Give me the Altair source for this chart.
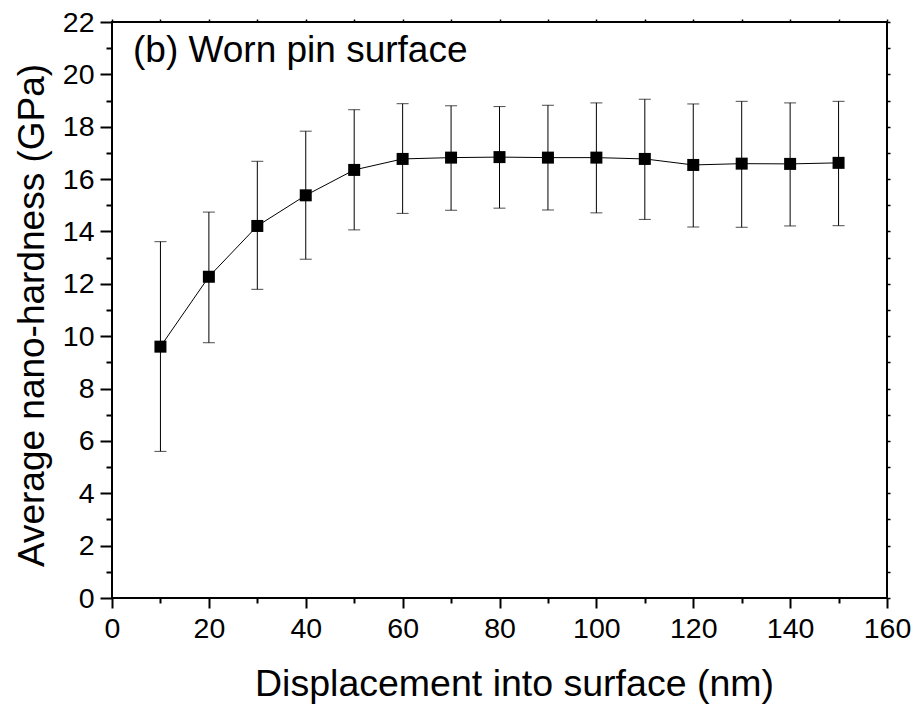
import altair as alt
import pandas as pd

# Data
displacement = [10, 20, 30, 40, 50, 60, 70, 80, 90, 100, 110, 120, 130, 140, 150]
hardness = [9.60, 12.27, 14.21, 15.38, 16.35, 16.77, 16.82, 16.84, 16.82, 16.82, 16.77, 16.54, 16.59, 16.58, 16.62]
upper = [13.61, 14.74, 16.68, 17.83, 18.65, 18.88, 18.80, 18.77, 18.82, 18.91, 19.05, 18.87, 18.97, 18.91, 18.97]
lower = [5.60, 9.75, 11.79, 12.94, 14.06, 14.69, 14.81, 14.89, 14.82, 14.71, 14.46, 14.17, 14.16, 14.21, 14.22]

x_major = list(range(0, 161, 20))
x_minor = list(range(10, 160, 20))
x_top = list(range(0, 161, 10))
y_major = list(range(0, 23, 2))
y_minor = list(range(1, 22, 2))
y_right = list(range(0, 23, 1))

label_text = "(b) Worn pin surface"
x_title = "Displacement into surface (nm)"
y_title = "Average nano-hardness (GPa)"

df = pd.DataFrame({"x": displacement, "h": hardness, "hi": upper, "lo": lower})

FONT = "Liberation Sans"
xs = alt.Scale(domain=[0, 160], nice=False, zero=False)
ys = alt.Scale(domain=[0, 22], nice=False, zero=False)

base = alt.Chart(df)

ax_common = dict(grid=False, domain=False, labelFont=FONT, titleFont=FONT,
                 labelColor="black", titleColor="black", tickColor="black",
                 labelFlush=False, labelOverlap=False)

# Layer 1: connecting line, major axes
line = base.mark_line(color="black", strokeWidth=1).encode(
    x=alt.X("x:Q", scale=xs, axis=alt.Axis(
        values=x_major, tickSize=10, tickWidth=2, labelFontSize=28.5,
        labelPadding=6, title=x_title, titleFontSize=37.5, titleFontWeight="normal",
        titleBaseline="alphabetic", titleY=97, titleX=402, titleAnchor="middle",
        titleAlign="center", **ax_common)),
    y=alt.Y("h:Q", scale=ys, axis=alt.Axis(
        values=y_major, tickSize=12, tickWidth=2, labelFontSize=28.5,
        labelPadding=6, title=y_title, titleFontSize=37, titleFontWeight="normal",
        titleBaseline="alphabetic", titleX=-69, titleY=293, titleAlign="center",
        **ax_common)),
)

# Layer 2: error bar stems, minor ticks on bottom/left
stems = base.mark_rule(color="black", strokeWidth=1).encode(
    x=alt.X("x:Q", scale=xs, axis=alt.Axis(
        orient="bottom", values=x_minor, tickSize=5, tickWidth=2,
        labels=False, title=None, **ax_common)),
    y=alt.Y("lo:Q", scale=ys, axis=alt.Axis(
        orient="left", values=y_minor, tickSize=6, tickWidth=2,
        labels=False, title=None, **ax_common)),
    y2="hi:Q",
)

# Layer 3: upper caps, small ticks on top/right
cap_hi = base.mark_tick(color="black", thickness=1, size=12, orient="horizontal").encode(
    x=alt.X("x:Q", scale=xs, axis=alt.Axis(
        orient="top", values=x_top, tickSize=3, tickWidth=1.5,
        labels=False, title=None, **ax_common)),
    y=alt.Y("hi:Q", scale=ys, axis=alt.Axis(
        orient="right", values=y_right, tickSize=3, tickWidth=1.5,
        labels=False, title=None, **ax_common)),
)

# Layer 4: lower caps
cap_lo = base.mark_tick(color="black", thickness=1, size=12, orient="horizontal").encode(
    x=alt.X("x:Q", scale=xs, axis=None),
    y=alt.Y("lo:Q", scale=ys, axis=None),
)

# Layer 5: square markers
points = base.mark_point(shape="square", filled=True, color="black", size=144, opacity=1).encode(
    x=alt.X("x:Q", scale=xs, axis=None),
    y=alt.Y("h:Q", scale=ys, axis=None),
)

label = alt.Chart(pd.DataFrame({"t": [label_text]})).mark_text(
    font=FONT, fontSize=37, align="left", baseline="alphabetic", color="black"
).encode(x=alt.value(21), y=alt.value(40), text="t:N")

chart = alt.layer(line, stems, cap_hi, cap_lo, points, label).resolve_scale(
    x="independent", y="independent"
).resolve_axis(
    x="independent", y="independent"
).properties(
    width=775, height=576,
    autosize=alt.AutoSizeParams(type="none"),
    padding={"left": 112, "top": 22, "right": 32, "bottom": 109},
    background="white",
).configure_view(
    stroke="black", strokeWidth=2
)

chart.save("out.html", embed_options={"renderer": "svg", "actions": False})
